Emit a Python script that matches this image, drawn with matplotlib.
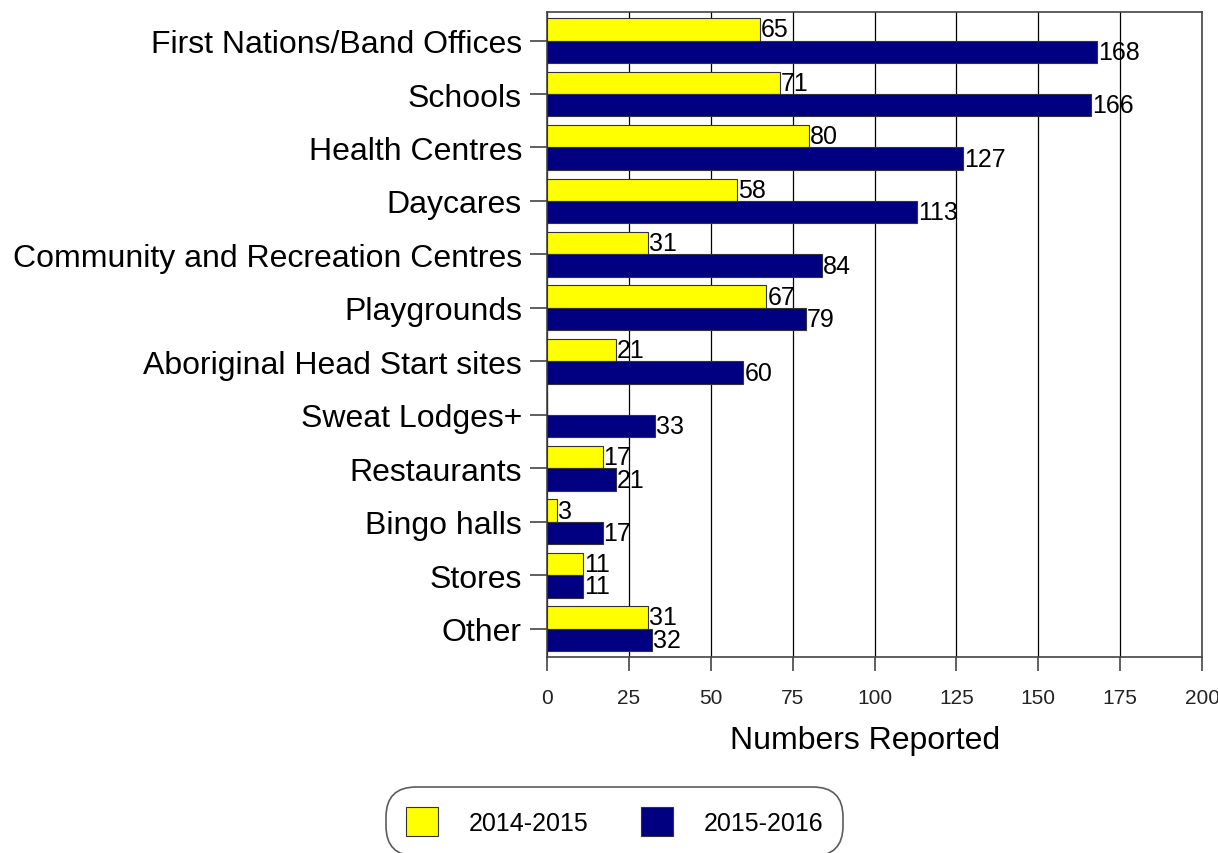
import numpy as np
import matplotlib
matplotlib.use("Agg")
import matplotlib.pyplot as plt

categories = ["First Nations/Band Offices", "Schools", "Health Centres", "Daycares",
              "Community and Recreation Centres", "Playgrounds", "Aboriginal Head Start sites",
              "Sweat Lodges+", "Restaurants", "Bingo halls", "Stores", "Other"]
vals_2014 = [65, 71, 80, 58, 31, 67, 21, None, 17, 3, 11, 31]
vals_2015 = [168, 166, 127, 113, 84, 79, 60, 33, 21, 17, 11, 32]
series_names = ["2014-2015", "2015-2016"]
xticks = [0, 25, 50, 75, 100, 125, 150, 175, 200]

plt.rcParams['font.family'] = ['Liberation Sans', 'DejaVu Sans']

fig = plt.figure(figsize=(12.18, 8.54), dpi=100)
ax = fig.add_axes([0.449, 0.2295, 0.538, 0.755])

n = len(categories)
y = np.arange(n)
h = 0.42
yellow = "#FFFF00"
navy = "#000080"

v14 = np.array([np.nan if v is None else v for v in vals_2014], dtype=float)
v15 = np.array(vals_2015, dtype=float)

b1 = ax.barh(y - h/2, np.nan_to_num(v14), height=h, color=yellow, edgecolor="#333333",
             linewidth=0.8, zorder=3, label=series_names[0])
b2 = ax.barh(y + h/2, v15, height=h, color=navy, edgecolor="#333333",
             linewidth=0.8, zorder=3, label=series_names[1])
for i in range(n):
    if not np.isnan(v14[i]):
        ax.text(v14[i] + 0.3, y[i] - h/2, f"{int(v14[i])}", va="center", ha="left",
                fontsize=18, zorder=4)
    ax.text(v15[i] + 0.3, y[i] + h/2, f"{int(v15[i])}", va="center", ha="left",
            fontsize=18, zorder=4)

ax.set_ylim(n - 0.5 + 0.03, -0.5 - 0.03)
ax.set_xlim(0, 200)
ax.set_yticks(y)
ax.set_yticklabels(categories, fontsize=23)
ax.set_xticks(xticks)
ax.set_xticklabels([str(t) for t in xticks], fontsize=15, color="#222222")
ax.tick_params(axis="y", length=12, width=1.2, color="#444444", pad=6)
ax.tick_params(axis="x", length=10, width=1.2, color="#444444", pad=12)
ax.xaxis.grid(True, color="black", linewidth=0.9, zorder=0)
ax.set_axisbelow(True)
for s in ax.spines.values():
    s.set_color("#444444")
    s.set_linewidth(1.2)
ax.set_xlabel("Numbers Reported", fontsize=23, labelpad=13)
ax.xaxis.label.set_x(0.4855)

leg = fig.legend(handles=[b1, b2], labels=series_names, loc="center",
                 bbox_to_anchor=(0.5045, 0.0365), ncol=2, fontsize=18, frameon=True,
                 fancybox=True, handlelength=1.3, handleheight=1.4, columnspacing=2.1,
                 handletextpad=1.22, borderpad=0.6, borderaxespad=0)
leg.get_frame().set_edgecolor("#333333")
leg.get_frame().set_linewidth(1.2)
leg.get_frame().set_boxstyle("round,pad=0.2,rounding_size=1.2")

fig.savefig("out.png", dpi=100)
